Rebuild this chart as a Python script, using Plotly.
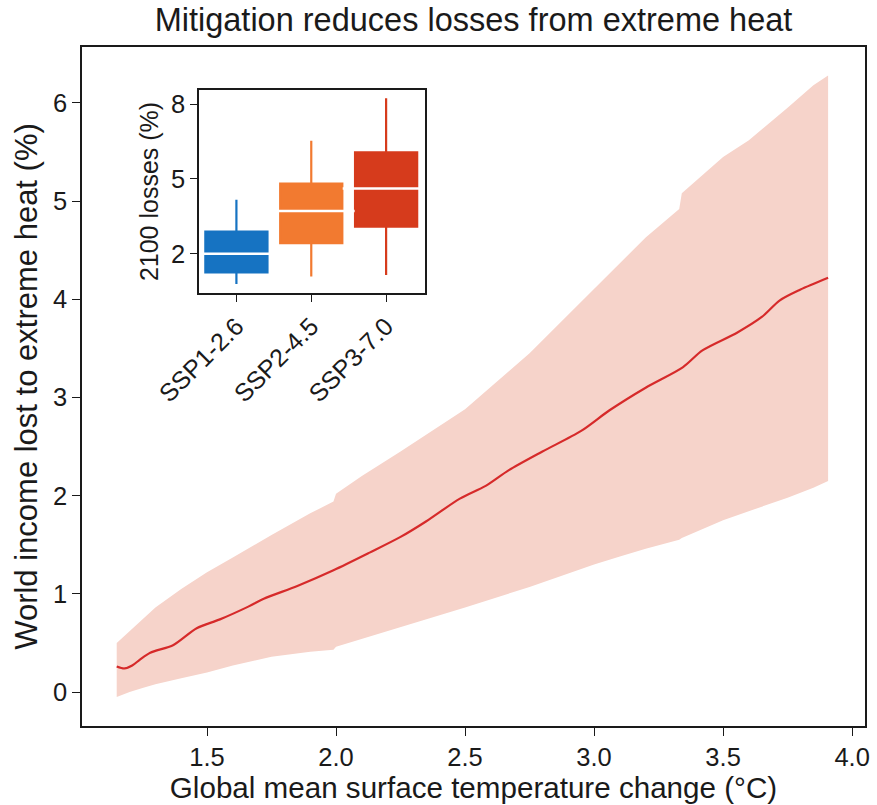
import plotly.graph_objects as go

# Central estimate: share of world income lost to extreme heat vs. warming
temp_mid = [1.15, 1.18, 1.21, 1.24, 1.28, 1.37, 1.46, 1.55, 1.66, 1.72, 1.85, 1.99,
            2.13, 2.25, 2.35, 2.48, 2.58, 2.67, 2.80, 2.95, 3.06, 3.20, 3.345, 3.42,
            3.554, 3.65, 3.72, 3.80, 3.907]
loss_mid = [0.26, 0.24, 0.27, 0.33, 0.40, 0.48, 0.65, 0.74, 0.87, 0.95, 1.08, 1.24,
            1.42, 1.58, 1.74, 1.97, 2.10, 2.26, 2.45, 2.66, 2.87, 3.10, 3.31, 3.48,
            3.66, 3.82, 3.99, 4.10, 4.22]

# Uncertainty range around the central estimate
temp_band = [1.15, 1.20, 1.25, 1.30, 1.40, 1.50, 1.60, 1.75, 1.90, 1.99, 2.00, 2.10,
             2.25, 2.50, 2.75, 3.00, 3.10, 3.20, 3.33, 3.34, 3.50, 3.60, 3.75, 3.85, 3.907]
loss_high = [0.50, 0.62, 0.75, 0.86, 1.05, 1.22, 1.37, 1.60, 1.82, 1.94, 2.02, 2.20,
             2.45, 2.88, 3.45, 4.10, 4.37, 4.63, 4.92, 5.08, 5.45, 5.62, 5.95, 6.18, 6.28]
loss_low = [-0.05, 0.00, 0.04, 0.08, 0.14, 0.20, 0.27, 0.36, 0.41, 0.43, 0.46, 0.54,
            0.66, 0.86, 1.07, 1.30, 1.38, 1.46, 1.55, 1.57, 1.75, 1.84, 1.98, 2.08, 2.15]

# 2100 losses by scenario (box statistics, %)
scenarios = ["SSP1-2.6", "SSP2-4.5", "SSP3-7.0"]
box_low = [0.78, 1.08, 1.14]
box_q1 = [1.25, 2.42, 3.08]
box_median = [2.00, 3.71, 4.62]
box_q3 = [2.88, 4.81, 6.07]
box_high = [4.16, 6.53, 8.24]
box_colors = ["#1673c2", "#f27a30", "#d63b1c"]

x_ticks = [1.5, 2.0, 2.5, 3.0, 3.5, 4.0]
y_ticks = [0, 1, 2, 3, 4, 5, 6]
inset_y_ticks = [2, 5, 8]

FONT = "Liberation Sans, Arial, Helvetica, sans-serif"
INK = "#1a1a1a"

fig = go.Figure()

# Shaded range
fig.add_trace(go.Scatter(x=temp_band, y=loss_low, mode="lines",
                         line=dict(width=0, color="#f6d3ca"),
                         showlegend=False, hoverinfo="skip"))
fig.add_trace(go.Scatter(x=temp_band, y=loss_high, mode="lines", fill="tonexty",
                         fillcolor="#f6d3ca", line=dict(width=0, color="#f6d3ca"),
                         showlegend=False, hoverinfo="skip"))
# Central line
fig.add_trace(go.Scatter(x=temp_mid, y=loss_mid, mode="lines",
                         line=dict(color="#d62a2a", width=2.2, shape="spline", smoothing=0.8),
                         showlegend=False))

# Inset boxes
for i, name in enumerate(scenarios):
    fig.add_trace(go.Box(
        x=[i], q1=[box_q1[i]], median=[box_median[i]], q3=[box_q3[i]],
        lowerfence=[box_low[i]], upperfence=[box_high[i]],
        width=0.83, whiskerwidth=0, fillcolor=box_colors[i],
        line=dict(color=box_colors[i], width=2.2), name=name,
        xaxis="x2", yaxis="y2", showlegend=False, boxpoints=False,
    ))
# White median markers on top of the boxes
fig.add_trace(go.Scatter(
    x=list(range(len(scenarios))), y=box_median, mode="markers",
    marker=dict(symbol="line-ew", size=62, line=dict(color="white", width=2.5)),
    xaxis="x2", yaxis="y2", showlegend=False, hoverinfo="skip",
))

fig.update_layout(
    width=877, height=805,
    margin=dict(l=82, r=12, t=47, b=79),
    paper_bgcolor="white", plot_bgcolor="white",
    font=dict(family=FONT, color=INK, size=25),
    title=dict(text="Mitigation reduces losses from extreme heat",
               x=0.5, xref="paper", xanchor="center",
               y=1 - 20 / 805, yref="container", yanchor="middle",
               font=dict(size=32.5, family=FONT, color=INK)),
    xaxis=dict(range=[1.0155, 4.05], tickvals=x_ticks, tickformat=".1f",
               showgrid=False, zeroline=False,
               showline=True, mirror=True, linecolor=INK, linewidth=1.6,
               ticks="outside", ticklen=8, tickwidth=1.4, tickcolor=INK,
               tickfont=dict(size=25.5),
               title=dict(text="Global mean surface temperature change (°C)",
                          font=dict(size=29.6), standoff=5),
               automargin=False),
    yaxis=dict(range=[-0.346, 6.57], tickvals=y_ticks,
               showgrid=False, zeroline=False,
               showline=True, mirror=True, linecolor=INK, linewidth=1.6,
               ticks="outside", ticklen=8, tickwidth=1.4, tickcolor=INK,
               tickfont=dict(size=25.5),
               title=dict(text="World income lost to extreme heat (%)",
                          font=dict(size=31), standoff=6),
               automargin=False),
    xaxis2=dict(domain=[0.1494, 0.4381], anchor="y2", range=[-0.5, 2.52],
                tickvals=list(range(len(scenarios))), ticktext=scenarios,
                tickangle=-45, tickfont=dict(size=25),
                showgrid=False, zeroline=False,
                showline=True, mirror=True, linecolor=INK, linewidth=1.5,
                ticks="outside", ticklen=7, tickwidth=1.4, tickcolor=INK,
                automargin=False),
    yaxis2=dict(domain=[0.6377, 0.9367], anchor="x2", range=[0.42, 8.57],
                tickvals=inset_y_ticks, tickfont=dict(size=25.5),
                showgrid=False, zeroline=False,
                showline=True, mirror=True, linecolor=INK, linewidth=1.5,
                ticks="outside", ticklen=7, tickwidth=1.4, tickcolor=INK,
                title=dict(text="2100 losses (%)", font=dict(size=25), standoff=5),
                automargin=False),
)

fig.write_html("out.html")
